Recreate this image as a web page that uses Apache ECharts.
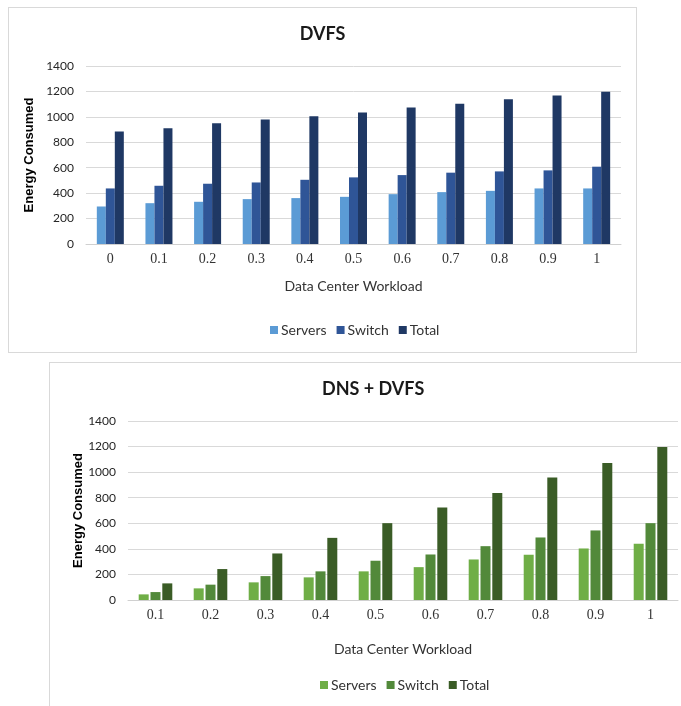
<!DOCTYPE html>
<html>
<head>
<meta charset="utf-8">
<script src="https://cdn.jsdelivr.net/npm/echarts@6/dist/echarts.min.js"></script>
<style>
  html, body { margin: 0; padding: 0; width: 681px; height: 706px; overflow: hidden; background: #fff; }
  .panel { position: absolute; border: 1px solid #d9d9d9; background: #fff; box-sizing: content-box; }
  #dvfs { left: 8px; top: 7px; width: 627px; height: 344px; }
  #dnsdvfs { left: 49px; top: 362px; width: 660px; height: 360px; }
</style>
</head>
<body>
<div id="dvfs" class="panel"></div>
<div id="dnsdvfs" class="panel"></div>
<script>
// Workload levels on the x axis
const dvfsWorkload = ['0', '0.1', '0.2', '0.3', '0.4', '0.5', '0.6', '0.7', '0.8', '0.9', '1'];
const dnsWorkload = ['0.1', '0.2', '0.3', '0.4', '0.5', '0.6', '0.7', '0.8', '0.9', '1'];

// Energy consumed under DVFS only
const dvfsServers = [295, 321, 332, 353, 361, 371, 392, 408, 418, 437, 437];
const dvfsSwitch  = [437, 458, 474, 484, 505, 524, 542, 561, 571, 579, 608];
const dvfsTotal   = [884, 911, 950, 979, 1005, 1034, 1074, 1103, 1139, 1168, 1197];

// Energy consumed under DNS + DVFS
const dnsServers = [44, 91, 138, 177, 224, 257, 317, 354, 403, 440];
const dnsSwitch  = [62, 120, 187, 224, 307, 356, 421, 489, 544, 601];
const dnsTotal   = [130, 242, 364, 486, 601, 723, 837, 959, 1071, 1196];

const seriesNames = ['Servers', 'Switch', 'Total'];
const yTicks = { min: 0, max: 1400, interval: 200 };

const blues  = ['#5b9bd5', '#2f5597', '#1f3864'];
const greens = ['#6fae46', '#52893a', '#3a5c26'];

function buildOption(cfg) {
  return {
    animation: false,
    backgroundColor: '#fff',
    color: cfg.colors,
    title: {
      text: cfg.title,
      left: cfg.titleLeft,
      top: 17,
      padding: 0,
      textStyle: { fontFamily: 'Lato', fontWeight: 'bold', fontSize: 18, color: '#1a1a1a' }
    },
    legend: {
      data: seriesNames,
      left: cfg.legendLeft,
      top: 315,
      icon: 'rect',
      itemWidth: 8,
      itemHeight: 8,
      itemGap: 10,
      padding: 0,
      textStyle: { fontFamily: 'Lato', fontSize: 14, color: '#333', padding: [0, 0, 0, -2] }
    },
    grid: cfg.grid,
    xAxis: {
      type: 'category',
      data: cfg.categories,
      name: 'Data Center Workload',
      nameLocation: 'middle',
      nameGap: cfg.xNameGap,
      nameMoveOverlap: false,
      nameTextStyle: { fontFamily: 'Lato', fontSize: 14, color: '#333' },
      axisLine: { lineStyle: { color: '#d0d0d0', width: 1 } },
      axisTick: { show: false },
      axisLabel: { fontFamily: 'Liberation Serif', fontSize: 14, color: '#333', margin: 8 }
    },
    yAxis: {
      type: 'value',
      min: yTicks.min,
      max: yTicks.max,
      interval: yTicks.interval,
      name: 'Energy Consumed',
      nameLocation: 'middle',
      nameGap: cfg.yNameGap,
      nameMoveOverlap: false,
      nameTextStyle: { fontFamily: 'Liberation Sans', fontWeight: 'bold', fontSize: 13, color: '#000' },
      axisLine: { show: false },
      axisTick: { show: false },
      axisLabel: {
        fontFamily: 'Lato', fontSize: 12, color: '#262626', margin: 12,
        formatter: (v) => String(v)
      },
      splitLine: { lineStyle: { color: '#d9d9d9', width: 1 } }
    },
    series: seriesNames.map((name, i) => ({
      name: name,
      type: 'bar',
      data: cfg.values[i],
      barWidth: cfg.barWidth,
      barGap: cfg.barGap
    }))
  };
}

const chartTop = echarts.init(document.getElementById('dvfs'), null, { renderer: 'canvas' });
chartTop.setOption(buildOption({
  title: 'DVFS',
  titleLeft: 'center',
  legendLeft: 261,
  colors: blues,
  categories: dvfsWorkload,
  values: [dvfsServers, dvfsSwitch, dvfsTotal],
  grid: { left: 77, top: 58, width: 535, height: 178 },
  xNameGap: 35,
  yNameGap: 50,
  barWidth: 9,
  barGap: '0%'
}));

const chartBottom = echarts.init(document.getElementById('dnsdvfs'), null, { renderer: 'canvas' });
chartBottom.setOption(buildOption({
  title: 'DNS + DVFS',
  titleLeft: 272,
  legendLeft: 270,
  colors: greens,
  categories: dnsWorkload,
  values: [dnsServers, dnsSwitch, dnsTotal],
  grid: { left: 78, top: 58, width: 550, height: 179 },
  xNameGap: 42,
  yNameGap: 43,
  barWidth: 10,
  barGap: '18%'
}));
</script>
</body>
</html>
